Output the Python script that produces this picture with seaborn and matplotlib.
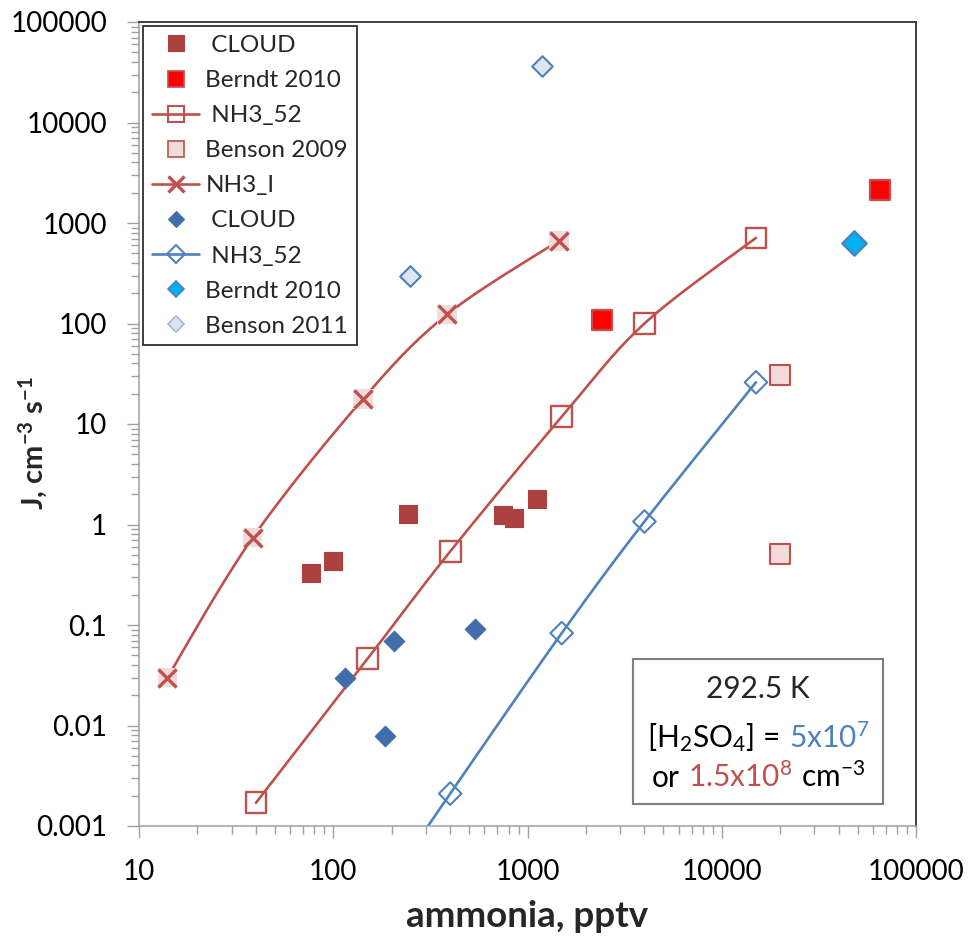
import numpy as np
import matplotlib
matplotlib.use("Agg")
import matplotlib.pyplot as plt
import seaborn as sns
from matplotlib.lines import Line2D
from matplotlib.patches import Rectangle
from matplotlib.offsetbox import TextArea, HPacker, AnnotationBbox
from matplotlib.ticker import NullFormatter

# ---------------- data ----------------
cloud_red_x = [77, 100, 243, 745, 853, 1115]
cloud_red_y = [0.33, 0.43, 1.27, 1.24, 1.15, 1.78]

berndt_red_x = [2420, 65000]
berndt_red_y = [108, 2150]

nh3_52_red_x = [40, 150, 400, 1500, 4000, 15000]
nh3_52_red_y = [0.0017, 0.046, 0.54, 11.8, 100, 710]

benson2009_x = [20000, 20000]
benson2009_y = [31, 0.51]

nh3_i_x = [14, 38.5, 142, 385, 1450]
nh3_i_y = [0.030, 0.74, 17.7, 123, 665]

cloud_blue_x = [115, 206, 537, 185]
cloud_blue_y = [0.030, 0.070, 0.091, 0.0079]

nh3_52_blue_x = [150, 400, 1500, 4000, 15000]
nh3_52_blue_y = [0.00013, 0.0021, 0.083, 1.07, 26]

berndt_blue_x = [48000]
berndt_blue_y = [630]

benson2011_x = [248, 1190]
benson2011_y = [300, 36500]

x_ticks = [10, 100, 1000, 10000, 100000]
x_tick_labels = ["10", "100", "1000", "10000", "100000"]
y_ticks = [0.001, 0.01, 0.1, 1, 10, 100, 1000, 10000, 100000]
y_tick_labels = ["0.001", "0.01", "0.1", "1", "10", "100", "1000", "10000", "100000"]

# ---------------- style ----------------
sns.set_theme(style="white")
plt.rcParams["font.family"] = ["Lato", "DejaVu Sans"]
plt.rcParams["mathtext.default"] = "regular"

RED = "#C0504D"
RED_DARK = "#AB423F"
PINK = "#F2DCDB"
BLUE = "#4F81BD"
BLUE_DARK = "#416EAA"
CYAN = "#00B0F0"
LIGHTBLUE = "#DCE6F2"
AXGRAY = "#A0A0A0"

W, H = 971, 936
fig = plt.figure(figsize=(W / 100, H / 100), dpi=100)
ax = fig.add_axes([139 / W, 1 - 826 / H, 777 / W, 804 / H])
ax.set_xscale("log")
ax.set_yscale("log")
ax.set_xlim(10, 1e5)
ax.set_ylim(1e-3, 1e5)


def smooth_curve(ax, x, y, n=60):
    """Excel-like smoothed line (Catmull-Rom Bezier in screen space)."""
    pts = ax.transData.transform(np.column_stack([x, y]))
    P = np.vstack([pts[0], pts, pts[-1]])
    t = np.linspace(0, 1, n)[:, None]
    out = []
    for i in range(1, len(P) - 2):
        p0, p1, p2, p3 = P[i - 1], P[i], P[i + 1], P[i + 2]
        c1 = p1 + (p2 - p0) / 6.0
        c2 = p2 - (p3 - p1) / 6.0
        seg = (1 - t) ** 3 * p1 + 3 * (1 - t) ** 2 * t * c1 + 3 * (1 - t) * t ** 2 * c2 + t ** 3 * p2
        out.append(seg if i == 1 else seg[1:])
    seg = np.vstack(out)
    d = ax.transData.inverted().transform(seg)
    return d[:, 0], d[:, 1]


# smoothed lines
for xs, ys, col in [(nh3_i_x, nh3_i_y, RED), (nh3_52_red_x, nh3_52_red_y, RED),
                    (nh3_52_blue_x, nh3_52_blue_y, BLUE)]:
    sx, sy = smooth_curve(ax, xs, ys)
    sns.lineplot(x=sx, y=sy, sort=False, estimator=None, color=col, linewidth=1.9,
                 ax=ax, zorder=2, legend=False)

# filled markers
sns.scatterplot(x=cloud_red_x, y=cloud_red_y, marker="s", s=12.5 ** 2, color=RED_DARK,
                edgecolor=RED_DARK, linewidth=0.8, ax=ax, zorder=3, legend=False)
sns.scatterplot(x=berndt_red_x, y=berndt_red_y, marker="s", s=14 ** 2, color="#FF0000",
                edgecolor=RED, linewidth=1.6, ax=ax, zorder=3, legend=False)
sns.scatterplot(x=benson2009_x, y=benson2009_y, marker="s", s=14.5 ** 2, color=PINK,
                edgecolor=RED, linewidth=1.5, ax=ax, zorder=3, legend=False)
sns.scatterplot(x=cloud_blue_x, y=cloud_blue_y, marker="D", s=10.5 ** 2, color=BLUE_DARK,
                edgecolor=BLUE_DARK, linewidth=0.8, ax=ax, zorder=3, legend=False)
sns.scatterplot(x=berndt_blue_x, y=berndt_blue_y, marker="D", s=12.5 ** 2, color=CYAN,
                edgecolor=BLUE, linewidth=1.6, ax=ax, zorder=3, legend=False)
sns.scatterplot(x=benson2011_x, y=benson2011_y, marker="D", s=10.5 ** 2, color=LIGHTBLUE,
                edgecolor=BLUE, linewidth=1.5, ax=ax, zorder=3, legend=False)

# open markers on the model lines
ax.scatter(nh3_52_red_x, nh3_52_red_y, marker="s", s=15 ** 2, facecolors="none",
           edgecolors=RED, linewidths=1.7, zorder=3)
ax.scatter(nh3_52_blue_x, nh3_52_blue_y, marker="D", s=11.5 ** 2, facecolors="none",
           edgecolors=BLUE, linewidths=1.5, zorder=3)
ax.scatter(nh3_i_x, nh3_i_y, marker="s", s=14 ** 2, facecolors=PINK, edgecolors="none",
           zorder=3)
ax.scatter(nh3_i_x, nh3_i_y, marker="x", s=13 ** 2, color=RED, linewidths=2.4, zorder=4)

# ---------------- axes ----------------
ax.set_xticks(x_ticks)
ax.set_xticklabels(x_tick_labels)
ax.set_yticks(y_ticks)
ax.set_yticklabels(y_tick_labels)
ax.xaxis.set_minor_formatter(NullFormatter())
ax.yaxis.set_minor_formatter(NullFormatter())
ax.set_xlim(10, 1e5)
ax.set_ylim(1e-3, 1e5)
ax.tick_params(axis="both", which="major", direction="out", length=8.5, width=1,
               color=AXGRAY, labelsize=20, labelcolor="black")
ax.tick_params(axis="both", which="minor", direction="out", length=5.5, width=1,
               color=AXGRAY)
ax.tick_params(axis="x", which="major", pad=15.5)
ax.tick_params(axis="y", which="major", pad=14.5)
ax.tick_params(axis="both", which="both", bottom=True, left=True, top=False, right=False)
for s in ["left", "bottom"]:
    ax.spines[s].set_color(AXGRAY)
    ax.spines[s].set_linewidth(1.1)
for s in ["top", "right"]:
    ax.spines[s].set_color("#404040")
    ax.spines[s].set_linewidth(1.4)

ax.set_xlabel("ammonia, pptv", fontsize=26.5, fontweight="bold")
ax.xaxis.set_label_coords(0.5, (826 - 927) / 804)
ax.xaxis.label.set_va("baseline")
ax.set_ylabel("J, cm$^{-3}$ s$^{-1}$", fontsize=21, fontweight="bold")
ax.yaxis.set_label_coords((33 - 139) / 777, (826 - 443) / 804)
ax.yaxis.label.set_va("center")

# ---------------- legend ----------------
handles = [
    Line2D([], [], ls="none", marker="s", ms=12, mfc=RED_DARK, mec=RED_DARK, mew=0.8),
    Line2D([], [], ls="none", marker="s", ms=11.5, mfc="#FF0000", mec=RED, mew=1.2),
    Line2D([], [], color=RED, lw=1.9, marker="s", ms=11.5, mfc="none", mec=RED, mew=1.5),
    Line2D([], [], ls="none", marker="s", ms=11.5, mfc=PINK, mec=RED, mew=1.2),
    Line2D([], [], color=RED, lw=1.9, marker="x", ms=12, mec=RED, mew=2.4),
    Line2D([], [], ls="none", marker="D", ms=8.5, mfc=BLUE_DARK, mec=BLUE_DARK, mew=0.8),
    Line2D([], [], color=BLUE, lw=1.9, marker="D", ms=9, mfc="none", mec=BLUE, mew=1.5),
    Line2D([], [], ls="none", marker="D", ms=8.5, mfc=CYAN, mec=BLUE, mew=1.2),
    Line2D([], [], ls="none", marker="D", ms=8.5, mfc=LIGHTBLUE, mec="#9DB7DB", mew=1.2),
]
labels = [" CLOUD", "Berndt 2010", " NH3_52", "Benson 2009", "NH3_I",
          " CLOUD", " NH3_52", "Berndt 2010", "Benson 2011"]
leg = ax.legend(handles, labels, loc="upper left", bbox_to_anchor=(0, 1),
                borderaxespad=0.18, fontsize=17.5, frameon=True, fancybox=False,
                edgecolor="#303030", framealpha=1, handlelength=1.95, handletextpad=0.25,
                labelspacing=0.58, borderpad=0.35)
leg.get_frame().set_linewidth(1.3)

# ---------------- annotation box ----------------
ax.add_patch(Rectangle((0.6358, 0.0274), 0.3217, 0.1803, transform=ax.transAxes,
                       facecolor="white", edgecolor="#7F7F7F", linewidth=1.5, zorder=5))
FS = 21.5
ax.text(0.7967, 0.1704, "292.5 K", transform=ax.transAxes, ha="center", va="center",
        fontsize=FS, zorder=6)
line2 = HPacker(children=[
    TextArea("[H$_2$SO$_4$] =", textprops=dict(fontsize=FS, color="black")),
    TextArea("5x10$^7$", textprops=dict(fontsize=FS, color=BLUE)),
], sep=7, pad=0, align="baseline")
line3 = HPacker(children=[
    TextArea("or", textprops=dict(fontsize=FS, color="black")),
    TextArea("1.5x10$^8$", textprops=dict(fontsize=FS, color=RED)),
    TextArea("cm$^{-3}$", textprops=dict(fontsize=FS, color="black")),
], sep=6, pad=0, align="baseline")
for pk, yy in [(line2, 0.1095), (line3, 0.0609)]:
    ab = AnnotationBbox(pk, (0.7967, yy), xycoords="axes fraction", frameon=False,
                        box_alignment=(0.5, 0.5), pad=0, zorder=6)
    ax.add_artist(ab)

fig.savefig("out.png", dpi=100)
